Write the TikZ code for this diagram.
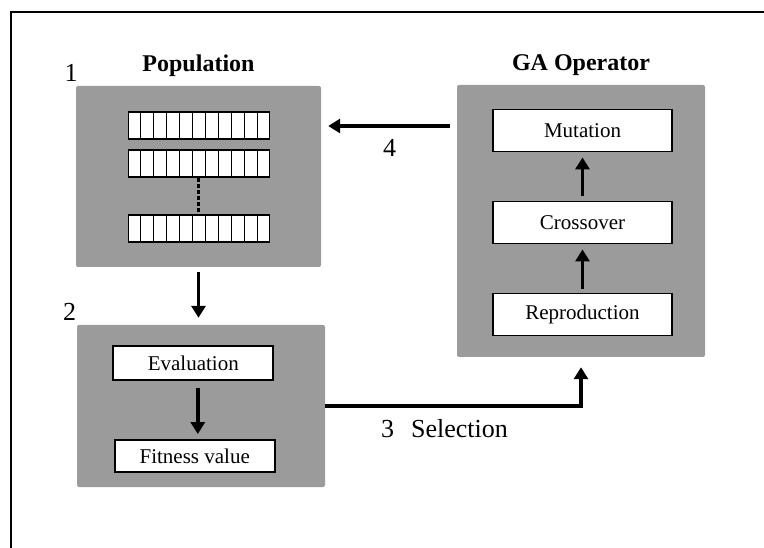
\documentclass[tikz,border=0pt]{standalone}
\usepackage{fontspec}
\setmainfont{Liberation Serif}
\usetikzlibrary{arrows.meta,calc}
\definecolor{boxgray}{RGB}{155,155,155}
\begin{document}
\begin{tikzpicture}[x=1pt,y=-1pt,
  graybox/.style={fill=boxgray, draw=none, rounded corners=2pt, inner sep=0pt},
  whitebox/.style={draw=black, line width=1.8pt, fill=white, inner sep=0pt,
    minimum width=179pt, minimum height=42pt, font=\fontsize{21}{25}\selectfont},
  smallbox/.style={whitebox, minimum width=160pt, minimum height=33pt},
  chrom/.style={draw=black, line width=1.6pt, fill=white, inner sep=0pt,
    minimum width=141pt, minimum height=27pt},
  cell/.style={line width=1.1pt},
  dots/.style={line width=3pt, dash pattern=on 4pt off 2pt},
  flow/.style={line width=3.5pt, -{Triangle[length=12pt,width=14pt]}},
  frameline/.style={line width=1.8pt},
  title/.style={font=\fontsize{24}{28}\selectfont\bfseries, anchor=base, inner sep=0pt},
  numlabel/.style={font=\fontsize{26}{30}\selectfont, anchor=base, inner sep=0pt}
]
\useasboundingbox (0,0) rectangle (764,548);
\draw[frameline] (11,548) -- (11,12) -- (764,12);

% gray panels
\node[graybox, minimum width=245pt, minimum height=181pt] (pop) at (198.5,176.5) {};
\node[graybox, minimum width=248pt, minimum height=272pt] (ga) at (581,221) {};
\node[graybox, minimum width=248pt, minimum height=162pt] (evg) at (201,406) {};

% titles and numbers
\node[title] (tpop) at (198.5,72) {Population};
\node[title] (tga) at (581,71) {GA Operator};
\node[numlabel] (n1) at (71,82) {1};
\node[numlabel] (n2) at (69.5,321) {2};
\node[numlabel] (n4) at (389.5,157) {4};
\node[numlabel, anchor=base west] (n3) at (381,437) {3\hspace{17pt}Selection};

% chromosomes
\node[chrom] (chr1) at (198.8,125.7) {};
\node[chrom] (chr2) at (198.8,163.5) {};
\node[chrom] (chr3) at (198.8,228.7) {};
\foreach \r in {chr1,chr2,chr3}
  \foreach \i in {1,...,10}
    \draw[cell] ($(\r.north west)!\i/11!(\r.north east)$) -- ($(\r.south west)!\i/11!(\r.south east)$);
\draw[dots] (chr2.south) -- (chr3.north);

% GA operator boxes
\node[whitebox] (mut) at (582.5,130.5) {Mutation};
\node[whitebox] (cro) at (582.5,222.5) {Crossover};
\node[whitebox] (rep) at (582.5,314.5) {Reproduction};
\draw[flow, shorten <=4pt, shorten >=5pt] (rep.north) -- (cro.south);
\draw[flow, shorten <=5pt, shorten >=5pt] (cro.north) -- (mut.south);

% evaluation boxes
\node[smallbox, minimum height=34pt] (evb) at (193.3,363) {Evaluation};
\node[smallbox, minimum height=32pt] (fit) at (194.7,456) {Fitness value};
\coordinate (evout) at ([xshift=4.5pt]evb.south);
\draw[flow, shorten <=7pt, shorten >=5pt] (evout) -- (evout |- fit.north);

% population -> evaluation
\draw[flow, shorten <=5pt, shorten >=7pt] (pop.south) -- (pop.south |- evg.north);

% selection
\coordinate (selend) at ([yshift=-10pt]ga.south);
\draw[flow] (evg.east) -| (selend);

% GA -> population
\coordinate (a4) at ([shift={(-7,-95)}]ga.west);
\draw[flow, shorten >=7pt] (a4) -- (a4 -| pop.east);
\end{tikzpicture}
\end{document}
